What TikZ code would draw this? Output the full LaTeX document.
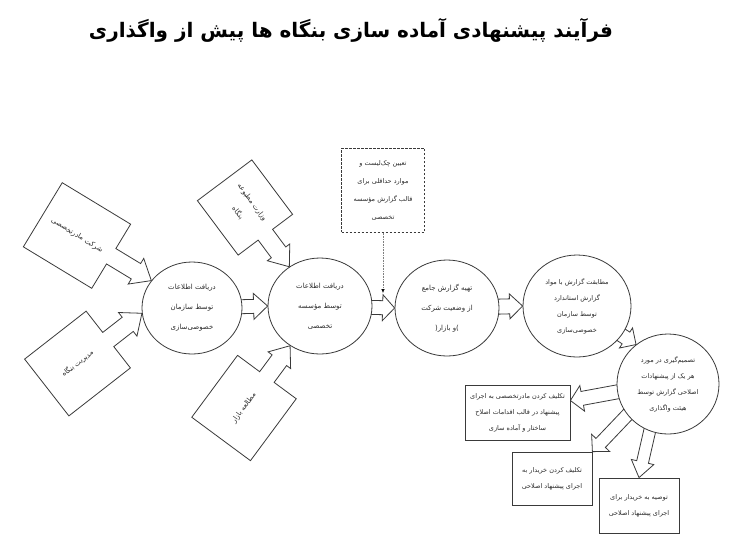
\documentclass[tikz,border=0pt]{standalone}
\usepackage{fontspec}
\usetikzlibrary{shapes.geometric,calc,backgrounds,arrows.meta}
\newfontfamily\farsi[Script=Arabic]{DejaVu Sans}
\TeXXeTstate=1
\newcommand\fa[1]{\beginR#1\endR}
\definecolor{linec}{HTML}{3A3A3A}
\definecolor{txtc}{HTML}{2A2A2A}
% block arrow from #1 to tip #2: shaft half width #3, head half width #4, head length #5
\newcommand\blockarr[5]{%
  \coordinate (H) at ($(#2)!#5pt!(#1)$);
  \draw[arrline] ($(#1)!#3pt!90:(#2)$) -- ($(H)!#3pt!90:(#2)$) -- ($(H)!#4pt!90:(#2)$) -- (#2)
    -- ($(H)!#4pt!-90:(#2)$) -- ($(H)!#3pt!-90:(#2)$) -- ($(#1)!#3pt!-90:(#2)$) -- cycle;}
% callout: centre #1, tip #2, half depth #3, half width #4, shaft #5, head #6, head length #7, text #8
\newcommand\callbox[8]{%
  \coordinate (P) at ($(#1)!#3pt!(#2)$);
  \coordinate (M) at ($(#1)!-#3pt!(#2)$);
  \coordinate (H) at ($(#2)!#7pt!(#1)$);
  \draw[arrline] ($(P)!#4pt!90:(#2)$) -- ($(P)!#5pt!90:(#2)$) -- ($(H)!#5pt!90:(#2)$) -- ($(H)!#6pt!90:(#2)$)
    -- (#2) -- ($(H)!#6pt!-90:(#2)$) -- ($(H)!#5pt!-90:(#2)$) -- ($(P)!#5pt!-90:(#2)$) -- ($(P)!#4pt!-90:(#2)$)
    -- ($(M)!#4pt!-90:(#2)$) -- ($(M)!#4pt!90:(#2)$) -- cycle;
  \path (#1) -- (#2) node[pos=0, sloped, calltext] {#8};}
\begin{document}
\begin{tikzpicture}[x=1pt,y=-1pt,
  arrline/.style={draw=linec, line width=0.8pt, fill=white, line join=miter},
  circ/.style={ellipse, draw=linec, line width=0.8pt, fill=white, inner sep=0pt, align=center, text=txtc,
     font=\farsi\fontsize{7}{20}\selectfont},
  circb/.style={circ, font=\farsi\fontsize{6.5}{16}\selectfont},
  boxn/.style={rectangle, draw=linec, line width=0.8pt, fill=white, inner sep=0pt, align=center, text=txtc,
     font=\farsi\fontsize{6.5}{16}\selectfont},
  calltext/.style={align=center, text=txtc, font=\farsi\fontsize{7}{18}\selectfont, inner sep=0pt}]
\useasboundingbox (0,0) rectangle (741,550);

\node[font=\farsi\bfseries\fontsize{20}{24}\selectfont, text=black] (title) at (351,30)
  {\fa{فرآیند پیشنهادی آماده سازی بنگاه ها پیش از واگذاری}};

\node[circ, minimum width=100pt, minimum height=92pt] (c1) at (192,308)
  {\fa{دریافت اطلاعات}\\\fa{توسط سازمان}\\\fa{خصوصی‌سازی}};
\node[circ, minimum width=104pt, minimum height=96pt] (c2) at (320,306)
  {\fa{دریافت اطلاعات}\\\fa{توسط مؤسسه}\\\fa{تخصصی}};
\node[circ, minimum width=104pt, minimum height=96pt] (c3) at (447,308)
  {\fa{تهیه گزارش جامع}\\\fa{از وضعیت شرکت}\\(\fa{و بازار})};
\node[circb, minimum width=108pt, minimum height=102pt] (c4) at (577,306)
  {\fa{مطابقت گزارش با مواد}\\\fa{گزارش استاندارد}\\\fa{توسط سازمان}\\\fa{خصوصی‌سازی}};
\node[circb, minimum width=102pt, minimum height=100pt] (c5) at (668,384)
  {\fa{تصمیم‌گیری در مورد}\\\fa{هر یک از پیشنهادات}\\\fa{اصلاحی گزارش توسط}\\\fa{هیئت واگذاری}};

\node[boxn, minimum width=105pt, minimum height=55pt] (bA) at (517.5,412.5)
  {\fa{تکلیف کردن مادرتخصصی به اجرای}\\\fa{پیشنهاد در قالب اقدامات اصلاح}\\\fa{ساختار و آماده سازی}};
\node[boxn, minimum width=80pt, minimum height=53pt] (bB) at (552,478.5)
  {\fa{تکلیف کردن خریدار به}\\\fa{اجرای پیشنهاد اصلاحی}};
\node[boxn, minimum width=80pt, minimum height=55pt] (bC) at (639,505.5)
  {\fa{توصیه به خریدار برای}\\\fa{اجرای پیشنهاد اصلاحی}};
\node[boxn, minimum width=83pt, minimum height=84pt, line width=1pt, dash pattern=on 2.5pt off 1.5pt,
  font=\farsi\fontsize{6.5}{18}\selectfont] (bD) at (383,190)
  {\fa{تعیین چک‌لیست و}\\\fa{موارد حداقلی برای}\\\fa{قالب گزارش مؤسسه}\\\fa{تخصصی}};

\coordinate (k1) at (77,235.5);
\coordinate (k2) at (77.5,363.5);
\coordinate (k3) at (245,207.5);
\coordinate (k4) at (244,408);
\coordinate (sA) at ($(c5)+(-19,2)$);
\coordinate (tA) at ($(bA.east)+(0,-12)$);
\coordinate (sB) at ($(c5)+(-16,5)$);
\coordinate (sC) at ($(c5)+(-11,15)$);
\coordinate (dtip) at (383,293);

\begin{pgfonlayer}{background}
\fill[white] (0,0) rectangle (741,550);
\blockarr{c1}{c2.west}{7}{13}{14}
\blockarr{c2}{c3.west}{7}{13}{12}
\blockarr{c3}{c4.west}{7.5}{12.5}{13}
\blockarr{c4}{c5.129}{7}{12}{12}
\blockarr{sA}{tA}{7}{13}{12}
\blockarr{sB}{bB.north east}{6.5}{12.5}{12}
\blockarr{sC}{bC.north}{6}{11.5}{16}
\callbox{k1}{c1.146}{40}{37.5}{9}{15}{18}{\fa{شرکت مادرتخصصی}}
\callbox{k2}{c1.186}{39}{36}{9}{15}{18}{\fa{مدیریت بنگاه}}
\callbox{k3}{c2.128}{34}{34}{9}{14}{18}{\fa{وزارت مطبوعه}\\\fa{بنگاه}}
\callbox{k4}{c2.233}{38.5}{36.5}{9}{14}{18}{\fa{مطالعه بازار}}
\end{pgfonlayer}

\draw[gray, densely dotted, line width=0.6pt, -{Latex[length=4pt,width=3.5pt,color=black]}] (bD.south -| dtip) -- (dtip);
\end{tikzpicture}
\end{document}
